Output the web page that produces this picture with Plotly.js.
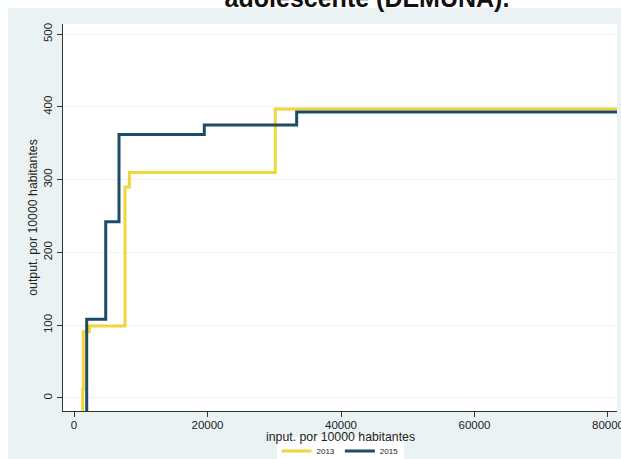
<!DOCTYPE html>
<html>
<head>
<meta charset="utf-8">
<script src="https://cdn.plot.ly/plotly-3.0.1.min.js"></script>
<style>html,body{margin:0;padding:0;background:#fff;overflow:hidden;}#chart{width:621px;height:459px;}</style>
</head>
<body>
<div id="chart"></div>
<script>
// Data (stairstep frontiers)
const x2013 = [1300, 1300, 1390, 2290, 7640, 8290, 30160, 82000];
const y2013 = [-18, 12, 91, 99, 290, 310, 397, 397];
const x2015 = [1900, 1900, 4750, 6740, 19520, 33360, 82000];
const y2015 = [-18, 108, 242, 362, 375, 393, 393];
const seriesNames = ['2013', '2015'];
const titleText = 'adolescente (DEMUNA).';
const xTitle = 'input. por 10000 habitantes';
const yTitle = 'output. por 10000 habitantes';
const xTicks = [0, 20000, 40000, 60000, 80000];
const yTicks = [0, 100, 200, 300, 400, 500];

const W = 621, H = 459;
const m = {l: 63, r: 4, t: 24, b: 48};
const pw = W - m.l - m.r, ph = H - m.t - m.b;
const bg = '#EAF2F3';
const font = 'Liberation Sans, Arial, sans-serif';

const traces = [
  {x: x2013, y: y2013, name: seriesNames[0], type: 'scatter', mode: 'lines',
   line: {shape: 'hv', color: '#F0D63A', width: 3}},
  {x: x2015, y: y2015, name: seriesNames[1], type: 'scatter', mode: 'lines',
   line: {shape: 'hv', color: '#1D4B68', width: 3}}
];

const layout = {
  width: W, height: H,
  margin: m,
  paper_bgcolor: bg,
  plot_bgcolor: '#ffffff',
  font: {family: font, color: '#222'},
  title: {text: '<b>' + titleText + '</b>', font: {family: font, size: 25, color: '#111'},
          x: 367 / W, xanchor: 'center', y: 1 - 7 / H, yanchor: 'bottom', yref: 'container'},
  xaxis: {range: [-1650, 81350], tickvals: xTicks, tickformat: 'd', showgrid: false, zeroline: false,
          showline: true, linecolor: '#333', linewidth: 1, ticks: 'outside', ticklen: 5, tickcolor: '#333',
          tickfont: {size: 11.5, color: '#222'}, ticklabeloverflow: 'allow', automargin: false,
          ticklabelstandoff: -2},
  yaxis: {range: [-18, 514], tickvals: yTicks, showgrid: true, gridcolor: '#EEF3F5', zeroline: false,
          showline: true, linecolor: '#333', linewidth: 1, ticks: 'outside', ticklen: 5, tickcolor: '#333',
          tickangle: -90, tickfont: {size: 11.5, color: '#222'}, automargin: false,
          title: {text: yTitle, font: {size: 12.3, color: '#222'}, standoff: 2}},
  annotations: [
    {text: xTitle, xref: 'paper', yref: 'paper', x: 0.5, y: -(437 - (H - m.b)) / ph,
     xanchor: 'center', yanchor: 'middle', showarrow: false, font: {size: 12.3, color: '#222'}}
  ],
  showlegend: true,
  legend: {orientation: 'h', x: 340 / W, xref: 'container', xanchor: 'center',
           y: 1 - 451 / H, yref: 'container', yanchor: 'middle',
           bgcolor: '#ffffff', font: {size: 8, color: '#222'}, itemwidth: 30, tracegroupgap: 0},
  shapes: [
    {type: 'rect', xref: 'paper', yref: 'paper', layer: 'below', line: {width: 0}, fillcolor: '#ffffff',
     x0: -m.l / pw, x1: (W - m.l) / pw, y0: 1 + (m.t - 8) / ph, y1: 1 + m.t / ph},
    {type: 'rect', xref: 'paper', yref: 'paper', layer: 'below', line: {width: 0}, fillcolor: '#ffffff',
     x0: -m.l / pw, x1: (8 - m.l) / pw, y0: -m.b / ph, y1: 1 + m.t / ph}
  ]
};

Plotly.newPlot('chart', traces, layout, {displayModeBar: false, staticPlot: true});
</script>
</body>
</html>
